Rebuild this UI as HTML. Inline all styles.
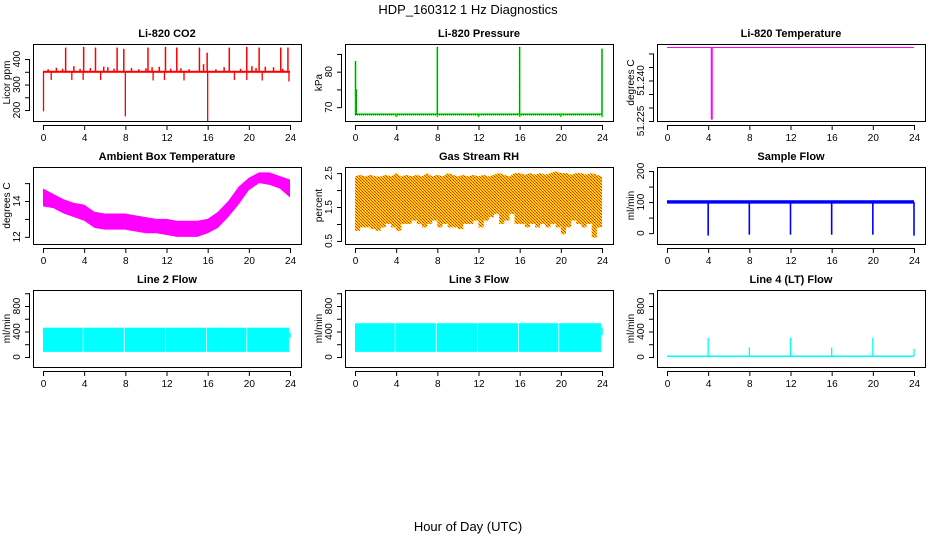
<!DOCTYPE html>
<html><head><meta charset="utf-8"><title>HDP_160312 1 Hz Diagnostics</title>
<style>
html,body{margin:0;padding:0;background:#fff;}
svg{display:block;font-family:"Liberation Sans",sans-serif;}
</style></head>
<body>
<svg id="chart" width="936" height="540" viewBox="0 0 936 540" xmlns="http://www.w3.org/2000/svg">
<defs>
<pattern id="rhpat" width="3" height="3" patternUnits="userSpaceOnUse">
<rect width="3" height="3" fill="#ffd800"/>
<rect x="0" y="0" width="1" height="1" fill="#ff2000"/>
<rect x="1" y="1" width="1" height="1" fill="#ff4000"/>
<rect x="2" y="2" width="1" height="1" fill="#ff2000"/>
</pattern>
</defs>
<text x="468" y="14" text-anchor="middle" font-size="13">HDP_160312 1 Hz Diagnostics</text>
<text x="468" y="531" text-anchor="middle" font-size="13">Hour of Day (UTC)</text>
<g id="panels"></g>
</svg>
<script>
// ---- data ----
const xTicks = [0,4,8,12,16,20,24];
const co2Base = 350;
const co2UpTimes = [2.2,3.95,5.1,7.2,7.85,10.2,11.9,13.0,15.2,15.95,18.1,19.8,21.0,23.1,23.8];
const co2UpValues = [445,448,445,445,440,445,448,445,445,425,445,448,445,445,445];
const co2DownTimes = [0.05,8.0,16.0,0.8,2.8,3.9,5.6,10.7,11.8,13.7,18.6,19.8,21.3,23.9];
const co2DownValues = [195,175,155,318,318,318,318,316,318,316,318,318,316,312];
const co2BumpTimes = [0.5,1.3,1.9,3.0,3.6,4.6,5.9,6.3,6.9,8.6,9.3,10.0,10.6,11.3,12.4,13.4,14.2,15.6,16.8,17.6,19.2,20.3,20.7,21.6,22.4,23.3];
const co2BumpValues = [360,366,362,372,362,365,370,368,362,365,360,364,368,370,362,364,360,380,360,368,362,372,365,370,368,362];
const co2Ticks = [200,300,400];
const co2MinorTicks = [200,250,300,350,400];

const presBase = 68;
const presSpikeTimes = [0.05,0.12,8.0,16.0,24.0];
const presSpikeValues = [83,75,87,87,86.5];
const presDipTimes = [4,8,12,16,20,24];
const presDipValues = [67.2,67.2,67.2,67.2,67.2,67.2];
const presTicks = [70,80];
const presMinorTicks = [70,75,80,85];

const tempLevel = 51.2522;
const tempDipTime = 4.35;
const tempDipValue = 51.2255;
const tempTickValues = [51.225,51.240];
const tempTickLabels = ["51.225","51.240"];
const tempMinorTicks = [51.225,51.230,51.235,51.240,51.245,51.250];

const ambHours = [0,1,2,3,4,5,6,7,8,9,10,11,12,13,14,15,16,17,18,19,20,21,22,23,24];
const ambHigh = [14.7,14.4,14.1,13.9,13.8,13.4,13.3,13.3,13.3,13.2,13.1,13.0,13.0,12.9,12.9,12.9,13.0,13.4,14.0,14.8,15.3,15.6,15.6,15.4,15.2];
const ambLow  = [13.7,13.6,13.3,13.1,12.9,12.5,12.4,12.4,12.4,12.3,12.2,12.2,12.1,12.0,12.0,12.0,12.2,12.5,13.1,13.8,14.6,15.0,14.9,14.7,14.2];
const ambTicks = [12,14];
const ambMinorTicks = [12,13,14,15];

const rhHours = [0,0.5,1,1.5,2,2.5,3,3.5,4,4.5,5,5.5,6,6.5,7,7.5,8,8.5,9,9.5,10,10.5,11,11.5,12,12.5,13,13.5,14,14.5,15,15.5,16,16.5,17,17.5,18,18.5,19,19.5,20,20.5,21,21.5,22,22.5,23,23.5,24];
const rhLow = [0.8,0.9,0.9,0.85,0.8,0.9,1.0,0.9,0.8,1.0,1.0,1.1,1.0,0.9,1.0,1.1,0.9,1.0,0.9,0.9,0.85,1.0,1.0,1.1,0.9,1.1,1.2,1.3,1.0,1.1,1.3,1.0,1.0,0.9,1.0,0.9,1.0,0.9,1.0,0.9,0.7,0.9,1.1,1.0,0.9,1.0,0.6,0.9,1.7];
const rhHigh = [2.4,2.45,2.4,2.45,2.4,2.4,2.45,2.4,2.5,2.4,2.45,2.4,2.45,2.4,2.5,2.4,2.45,2.4,2.5,2.45,2.4,2.45,2.4,2.45,2.4,2.45,2.4,2.45,2.5,2.45,2.4,2.5,2.5,2.45,2.5,2.45,2.5,2.45,2.5,2.55,2.5,2.5,2.45,2.5,2.5,2.45,2.5,2.45,2.4];
const rhTicks = [0.5,1.5,2.5];
const rhMinorTicks = [0.5,1.0,1.5,2.0,2.5];

const sampleBase = 100;
const sampleDipTimes = [4,8,12,16,20,24];
const sampleDipValues = [-8,-5,-5,-5,-5,-8];
const sampleTicks = [0,100,200];
const sampleMinorTicks = [0,50,100,150,200];

const line2Low = 80, line2High = 460;
const line3Low = 80, line3High = 530;
const flowGapTimes = [3.9,7.9,11.9,15.9,19.8];
const line4Base = 12;
const line4SpikeTimes = [4,8,12,16,20,24];
const line4SpikeValues = [300,150,300,150,300,130];
const flowTicks = [0,400,800];
const flowMinorTicks = [0,200,400,600,800,1000];

// ---- layout ----
const NS = "http://www.w3.org/2000/svg";
const root = document.getElementById('panels');
const colLeft = [33,345,657];
const rowTop = [44,167,290];
const W = 268, H = 77;

function mk(tag, attrs, parent){
  const e = document.createElementNS(NS, tag);
  for (const k in attrs) e.setAttribute(k, attrs[k]);
  (parent||root).appendChild(e);
  return e;
}

function panel(col,row,title,ylab,ydom,ticks,labels,minor,name){
  const L = colLeft[col], T = rowTop[row];
  const g = mk('g',{});
  
  
  const xs = h => L + 10 + h*247/24;
  const ys = v => T + H - (v - ydom[0])/(ydom[1]-ydom[0])*H;
  const plot = mk('g',{}, g);
  
  
  const fr = mk('rect',{x:L+0.5,y:T+0.5,width:W,height:H,fill:'none',stroke:'#000','stroke-width':1}, g);
  
  
  const t = mk('text',{x:L+W/2,y:T-7,'text-anchor':'middle','font-size':11,'font-weight':'bold'}, g);
  t.textContent = title;
  
  
  const xa = mk('g',{}, g);
  
  
  mk('line',{x1:xs(0),x2:xs(24),y1:T+H+4.5,y2:T+H+4.5,stroke:'#000'}, xa);
  xTicks.forEach(v=>{
    mk('line',{x1:xs(v)+0.5,x2:xs(v)+0.5,y1:T+H+4,y2:T+H+9,stroke:'#000'}, xa);
    const tx = mk('text',{x:xs(v)+0.5,y:T+H+20,'text-anchor':'middle','font-size':10}, xa);
    tx.textContent = v;
    
    
  });
  const ya = mk('g',{}, g);
  
  
  mk('line',{x1:L-3.5,x2:L-3.5,y1:ys(minor[0]),y2:ys(minor[minor.length-1]),stroke:'#000'}, ya);
  minor.forEach(v=>{
    mk('line',{x1:L-8,x2:L-3,y1:ys(v)+0.5,y2:ys(v)+0.5,stroke:'#000'}, ya);
  });
  ticks.forEach((v,i)=>{
    const lab = labels ? labels[i] : String(v);
    if(!lab) return;
    const yy = ys(v);
    const tx = mk('text',{x:0,y:0,'text-anchor':'middle','font-size':10,transform:`translate(${L-13},${yy}) rotate(-90)`}, ya);
    tx.textContent = lab;
    
    
  });
  const yl = mk('text',{x:0,y:0,'text-anchor':'middle','font-size':10,transform:`translate(${L-23},${T+H/2}) rotate(-90)`}, g);
  yl.textContent = ylab;
  
  
  return {xs, ys, plot};
}

function vline(p, x, v1, v2, color, w, nm){
  const e = mk('line',{x1:p.xs(x),x2:p.xs(x),y1:p.ys(v1),y2:p.ys(v2),stroke:color,'stroke-width':w||1.3}, p.plot);
  
  
  return e;
}
function band(p, x1, x2, v1, v2, color, nm){
  const a = p.xs(x1), b = p.xs(x2), c = p.ys(v2), d = p.ys(v1);
  const e = mk('rect',{x:a,y:c,width:Math.max(0,b-a),height:Math.max(0,d-c),fill:color}, p.plot);
  
  
  return e;
}

// Panel 1: CO2
let p = panel(0,0,'Li-820 CO2','Licor ppm',[157,459],co2Ticks,null,co2MinorTicks,'co2-panel');
band(p,0,24,co2Base-4,co2Base+4,'#ff0000','co2-baseline');
co2BumpTimes.forEach((t,i)=>vline(p,t,co2Base,co2BumpValues[i],'#ff0000',1.5,'co2-bump'));
co2UpTimes.forEach((t,i)=>vline(p,t,co2Base,co2UpValues[i],'#ff0000',1.5,'co2-spike-up'));
co2DownTimes.forEach((t,i)=>vline(p,t,co2Base,co2DownValues[i],'#ff0000',1.3,'co2-spike-down'));

// Panel 2: Pressure
p = panel(1,0,'Li-820 Pressure','kPa',[66.1,87.8],presTicks,null,presMinorTicks,'pressure-panel');
band(p,0,24,presBase-0.25,presBase+0.25,'#00dd00','pressure-baseline');
mk('line',{x1:p.xs(0),x2:p.xs(24),y1:p.ys(presBase)+0.5,y2:p.ys(presBase)+0.5,stroke:'#000','stroke-dasharray':'1,1'},p.plot);
presDipTimes.forEach((t,i)=>vline(p,t,presBase,presDipValues[i],'#00dd00',1.5,'pressure-dip'));
presSpikeTimes.forEach((t,i)=>{vline(p,t,presBase,presSpikeValues[i],'#00dd00',1.6,'pressure-spike');
  const e=vline(p,t,presBase,presSpikeValues[i],'#000',0.6,'pressure-spike-dots'); e.setAttribute('stroke-dasharray','1,1');});

// Panel 3: Li-820 temperature
p = panel(2,0,'Li-820 Temperature','degrees C',[51.225,51.2535],tempTickValues,tempTickLabels,tempMinorTicks,'li820-temp-panel');
{
  const e = mk('line',{x1:p.xs(0),x2:p.xs(24),y1:p.ys(tempLevel),y2:p.ys(tempLevel),stroke:'#ff00ff','stroke-width':1},p.plot);
  
  
}
vline(p,tempDipTime,tempLevel,tempDipValue,'#ff00ff',2,'temp-dip');

// Panel 4: Ambient box temperature
p = panel(0,1,'Ambient Box Temperature','degrees C',[11.6,15.9],ambTicks,null,ambMinorTicks,'ambient-temp-panel');
{
  let pts = ambHours.map((h,i)=>p.xs(h)+','+p.ys(ambHigh[i]));
  pts = pts.concat(ambHours.slice().reverse().map((h,j)=>{const i=ambHours.length-1-j;return p.xs(h)+','+p.ys(ambLow[i]);}));
  const e = mk('polygon',{points:pts.join(' '),fill:'#ff00ff'},p.plot);
  
  
}

// Panel 5: Gas stream RH
p = panel(1,1,'Gas Stream RH','percent',[0.41,2.68],rhTicks,null,rhMinorTicks,'rh-panel');
{
  let pts = rhHours.map((h,i)=>p.xs(h)+','+p.ys(rhHigh[i]));
  pts = pts.concat(rhHours.slice().reverse().map((h,j)=>p.xs(h)+','+p.ys(1.5)));
  const e = mk('polygon',{points:pts.join(' '),fill:'url(#rhpat)'},p.plot);
  
  
  rhHours.forEach((h,i)=>{ if(i<rhHours.length-1) band(p,h,rhHours[i+1],rhLow[i],1.55,'url(#rhpat)','rh-lower-segment'); });
}

// Panel 6: Sample flow
p = panel(2,1,'Sample Flow','ml/min',[-35,213],sampleTicks,null,sampleMinorTicks,'sample-flow-panel');
band(p,0,24,sampleBase-5,sampleBase+6,'#0000ff','sample-flow-band');
sampleDipTimes.forEach((t,i)=>vline(p,t,sampleBase,sampleDipValues[i],'#0000ff',1.6,'sample-flow-dip'));

// Panel 7: Line 2 flow
p = panel(0,2,'Line 2 Flow','ml/min',[-157,1051],flowTicks,null,flowMinorTicks,'line2-flow-panel');
band(p,0,23.9,line2Low,line2High,'#00ffff','line2-flow-band');
flowGapTimes.forEach(t=>vline(p,t,line2Low-5,line2High+5,'#ffffff',0.8,'line2-gap'));
vline(p,24,300,380,'#00ffff',1.5,'line2-end');

// Panel 8: Line 3 flow
p = panel(1,2,'Line 3 Flow','ml/min',[-157,1051],flowTicks,null,flowMinorTicks,'line3-flow-panel');
band(p,0,23.9,line3Low,line3High,'#00ffff','line3-flow-band');
flowGapTimes.forEach(t=>vline(p,t,line3Low-5,line3High+5,'#ffffff',0.8,'line3-gap'));
vline(p,24,340,460,'#00ffff',1.5,'line3-end');

// Panel 9: Line 4 flow
p = panel(2,2,'Line 4 (LT) Flow','ml/min',[-157,1051],flowTicks,null,flowMinorTicks,'line4-flow-panel');
band(p,0,24,line4Base-12,line4Base+12,'#00ffff','line4-flow-baseline');
line4SpikeTimes.forEach((t,i)=>vline(p,t,line4Base,line4SpikeValues[i],'#00ffff',1.3,'line4-spike'));
</script>
</body></html>
